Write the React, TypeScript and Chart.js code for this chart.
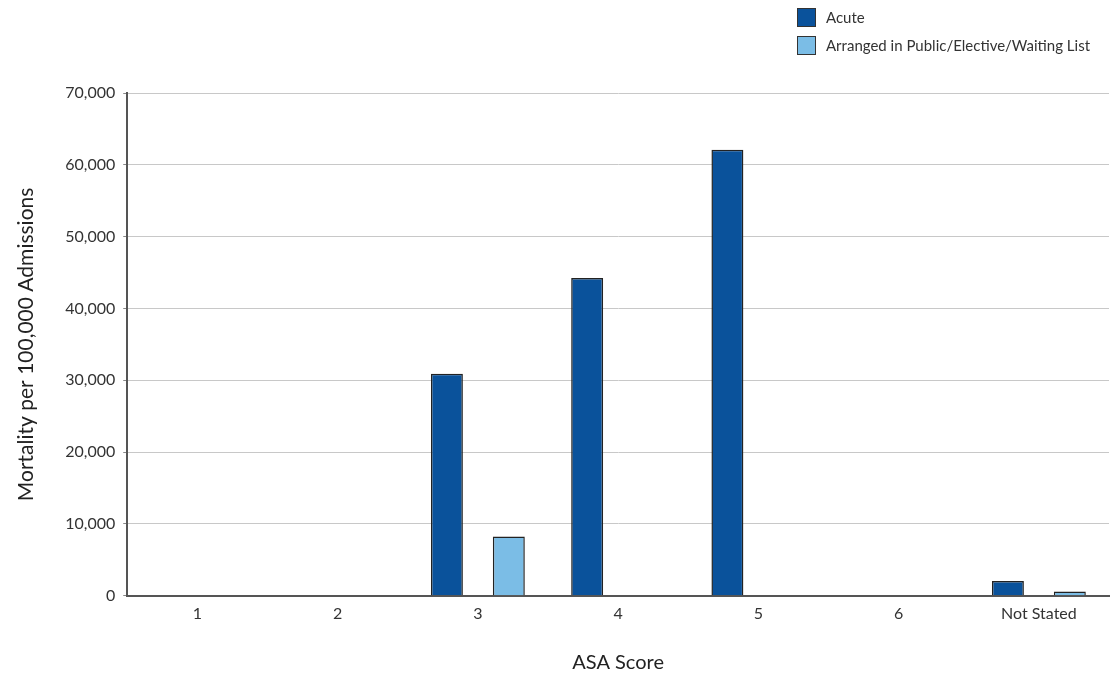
import React, { useEffect, useRef } from "react";
import { Chart, registerables } from "chart.js";

Chart.register(...registerables);

const categories = ["1", "2", "3", "4", "5", "6", "Not Stated"];
const acuteValues = [0, 0, 30900, 44250, 62100, 0, 2050];
const electiveValues = [0, 0, 8250, 0, 0, 0, 600];
const seriesNames = ["Acute", "Arranged in Public/Elective/Waiting List"];
const seriesColors = ["#0a529b", "#7bbde6"];
const yTitle = "Mortality per 100,000 Admissions";
const xTitle = "ASA Score";

const FONT = "Lato, 'DejaVu Sans', sans-serif";

const legendPlugin = {
  id: "customLegend",
  afterDraw(chart: any) {
    const ctx = chart.ctx;
    ctx.save();
    const x0 = 797;
    const rows = [8, 36];
    seriesNames.forEach((name, i) => {
      const y = rows[i];
      ctx.fillStyle = seriesColors[i];
      ctx.fillRect(x0, y, 19, 19);
      ctx.strokeStyle = "#333";
      ctx.lineWidth = 1;
      ctx.strokeRect(x0 + 0.5, y + 0.5, 18, 18);
      ctx.fillStyle = "#333";
      ctx.font = "15px " + FONT;
      ctx.textBaseline = "middle";
      ctx.textAlign = "left";
      ctx.fillText(name, x0 + 29, y + 10);
    });
    ctx.restore();
  },
};

export default function App() {
  const ref = useRef<HTMLCanvasElement>(null);
  useEffect(() => {
    if (!ref.current) return;
    const chart = new Chart(ref.current, {
      type: "bar",
      data: {
        labels: categories,
        datasets: [
          {
            label: seriesNames[0],
            data: acuteValues,
            backgroundColor: seriesColors[0],
            borderColor: "#222",
            borderWidth: 1.5,
            borderSkipped: "start",
          },
          {
            label: seriesNames[1],
            data: electiveValues,
            backgroundColor: seriesColors[1],
            borderColor: "#222",
            borderWidth: 1.5,
            borderSkipped: "start",
          },
        ],
      },
      options: {
        responsive: false,
        animation: false,
        maintainAspectRatio: false,
        layout: { padding: { top: 93, right: 6, left: 14, bottom: 0 } },
        datasets: { bar: { categoryPercentage: 0.883, barPercentage: 0.516 } },
        plugins: {
          legend: { display: false },
          tooltip: { enabled: false },
        },
        scales: {
          x: {
            grid: { display: false, drawTicks: false },
            border: { color: "#555", width: 2 },
            ticks: { color: "#333", font: { family: FONT, size: 16 }, padding: 8 },
            title: {
              display: true,
              text: xTitle,
              color: "#222",
              font: { family: FONT, size: 20 },
              padding: { top: 20, bottom: 0 },
            },
          },
          y: {
            min: 0,
            max: 70000,
            ticks: {
              stepSize: 10000,
              color: "#333",
              font: { family: FONT, size: 16 },
              padding: 8,
              callback: (v: any) => Number(v).toLocaleString("en-US"),
            },
            grid: { color: "#c8c8c8", lineWidth: 1, tickLength: 4, tickColor: "#888" },
            border: { color: "#555", width: 2 },
            title: {
              display: true,
              text: yTitle,
              color: "#222",
              font: { family: FONT, size: 21 },
              padding: { top: 0, bottom: 18 },
            },
          },
        },
      },
      plugins: [legendPlugin],
    });
    return () => chart.destroy();
  }, []);
  return (
    <div style={{ position: "fixed", left: 0, top: 0, width: 1115, height: 675, background: "#fff" }}>
      <canvas ref={ref} width={1115} height={675} />
    </div>
  );
}
